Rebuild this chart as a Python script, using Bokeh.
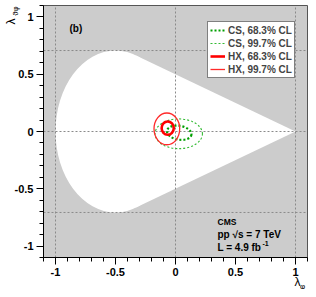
from bokeh.plotting import figure
from bokeh.models import Range1d, FixedTicker, Label, Legend, LegendItem, CustomJSTickFormatter
from bokeh.embed import file_html
from bokeh.resources import INLINE

# ---- data ----
# physically allowed region: ellipse part (centre, full width, full height) + triangle part
REGION_EX = [-0.5]
REGION_EY = [0.0]
REGION_EW = [1.0]
REGION_EH = [1.414]
TRI_X = [-0.3333, 1.0, -0.3333]
TRI_Y = [0.6667, 0.0, -0.6667]

# plotted parameter box
BOX = [-1.1, 1.1]

# dashed guide lines
GUIDE_X = [-1.0, 0.0, 1.0]
GUIDE_Y = [0.707, 0.0, -0.707]

# contours: [68.3% CL, 99.7% CL] centre x, centre y, full width, full height, angle (deg)
CS_X = [0.031, 0.027]
CS_Y = [-0.011, -0.02]
CS_W = [0.206, 0.395]
CS_H = [0.121, 0.26]
CS_A = [-10.0, 0.0]

HX_X = [-0.065, -0.072]
HX_Y = [0.029, 0.023]
HX_W = [0.101, 0.214]
HX_H = [0.116, 0.277]
HX_A = [0.0, 0.0]

MAJOR_TICKS = [-1.0, -0.5, 0.0, 0.5, 1.0]
MINOR_TICKS = [-1.1, -1.0, -0.9, -0.8, -0.7, -0.6, -0.5, -0.4, -0.3, -0.2, -0.1, 0.0,
               0.1, 0.2, 0.3, 0.4, 0.5, 0.6, 0.7, 0.8, 0.9, 1.0, 1.1]

LEGEND_LABELS = ["CS, 68.3% CL", "CS, 99.7% CL", "HX, 68.3% CL", "HX, 99.7% CL"]

# ---- layout (pixels of the figure -> data) ----
W, H = 308, 289
PXL, PXR = 43, 307      # pixel x of -1.1 and 1.1
PYT, PYB = 5, 257       # pixel y of 1.1 and -1.1
SX = (PXR - PXL) / 2.2
SY = (PYB - PYT) / 2.2
XS = -1.1 - PXL / SX
XE = 1.1 + (W - PXR) / SX
YE = 1.1 + PYT / SY
YS = -1.1 - (H - PYB) / SY

def dx(px):
    return XS + px / SX
def dy(py):
    return YE - py / SY

FONT = "Liberation Sans"

p = figure(width=W, height=H, x_range=Range1d(XS, XE), y_range=Range1d(YS, YE),
           output_backend="svg", toolbar_location=None,
           min_border_left=0, min_border_right=0, min_border_top=0, min_border_bottom=0)
p.background_fill_color = "white"
p.border_fill_color = "white"
p.outline_line_color = None
p.grid.visible = False

# grey (forbidden) background of the parameter box
p.quad(left=[BOX[0]], right=[BOX[1]], bottom=[BOX[0]], top=[BOX[1]],
       fill_color="#cccccc", line_color="#555555", line_width=1)

# allowed region
p.ellipse(x=REGION_EX, y=REGION_EY, width=REGION_EW, height=REGION_EH,
          fill_color="white", line_color=None)
p.patch(TRI_X, TRI_Y, fill_color="white", line_color=None)

# guides
p.segment(x0=GUIDE_X, y0=[BOX[0]] * 3, x1=GUIDE_X, y1=[BOX[1]] * 3,
          line_color="#8a8a8a", line_dash="2 2", line_width=1)
p.segment(x0=[BOX[0]] * 3, y0=GUIDE_Y, x1=[BOX[1]] * 3, y1=GUIDE_Y,
          line_color="#8a8a8a", line_dash="2 2", line_width=1)

# contours
styles = [
    dict(line_color="#00a000", line_width=2.2, line_dash="2 2"),
    dict(line_color="#33bb33", line_width=1.1, line_dash="2 2"),
    dict(line_color="#ff0000", line_width=2.6),
    dict(line_color="#ff2a2a", line_width=1.3),
]
p.ellipse(x=[CS_X[0]], y=[CS_Y[0]], width=[CS_W[0]], height=[CS_H[0]], angle=[CS_A[0]],
          angle_units="deg", fill_color=None, **styles[0])
p.ellipse(x=[CS_X[1]], y=[CS_Y[1]], width=[CS_W[1]], height=[CS_H[1]], angle=[CS_A[1]],
          angle_units="deg", fill_color=None, **styles[1])
p.ellipse(x=[HX_X[0]], y=[HX_Y[0]], width=[HX_W[0]], height=[HX_H[0]], angle=[HX_A[0]],
          angle_units="deg", fill_color=None, **styles[2])
p.ellipse(x=[HX_X[1]], y=[HX_Y[1]], width=[HX_W[1]], height=[HX_H[1]], angle=[HX_A[1]],
          angle_units="deg", fill_color=None, **styles[3])

# legend (line samples; the proxy lines have no visible points)
items = []
for lab_text, st in zip(LEGEND_LABELS, styles):
    r = p.line([float("nan"), float("nan")], [float("nan"), float("nan")], **st)
    items.append(LegendItem(label=lab_text, renderers=[r]))
legend = Legend(items=items, location=(207, H - 78),
                label_text_font=FONT, label_text_font_style="bold", label_text_font_size="10px",
                glyph_width=15, glyph_height=12, label_height=12, label_standoff=3,
                spacing=1, padding=2, margin=0, border_line_color="black", border_line_width=1,
                background_fill_color="white", background_fill_alpha=1.0)
p.add_layout(legend)

# axes drawn at the box edges
fmt = CustomJSTickFormatter(code="return String(tick);")
for ax in (p.xaxis[0], p.yaxis[0]):
    ax.fixed_location = BOX[0]
    ax.bounds = (BOX[0], BOX[1])
    ax.ticker = FixedTicker(ticks=MAJOR_TICKS, minor_ticks=MINOR_TICKS)
    ax.formatter = fmt
    ax.major_tick_in = 0
    ax.major_tick_out = 7
    ax.minor_tick_in = 0
    ax.minor_tick_out = 4
    ax.axis_line_color = "black"
    ax.major_tick_line_color = "black"
    ax.minor_tick_line_color = "black"
    ax.major_label_text_font = FONT
    ax.major_label_text_font_style = "bold"
    ax.major_label_text_font_size = "11px"
    ax.major_label_text_color = "black"
    ax.major_label_standoff = 3

def lab(px, py, text, size="10px", align="left", baseline="middle", angle=0, style="bold"):
    p.add_layout(Label(x=dx(px), y=dy(py), text=text, text_font=FONT, text_font_style=style,
                       text_font_size=size, text_align=align, text_baseline=baseline,
                       angle=angle, angle_units="deg", text_color="black"))

lab(69, 28, "(b)")
lab(217, 221, "CMS", size="8.5px")
lab(217, 234, "pp   \u221as = 7 TeV")
lab(217, 247, "L = 4.9 fb")
lab(262, 243, "-1", size="7px")

# axis titles
lab(297, 281, "\u03bb", size="12px", align="center", style="normal")
lab(302, 285.5, "\u03c6", size="8px", align="center", style="normal")
lab(10, 21, "\u03bb", size="12px", align="center", angle=90, style="normal")
lab(14.5, 10.5, "\u03d1\u03c6", size="8px", align="center", angle=90, style="normal")

open("out.html", "w").write(file_html(p, INLINE))
